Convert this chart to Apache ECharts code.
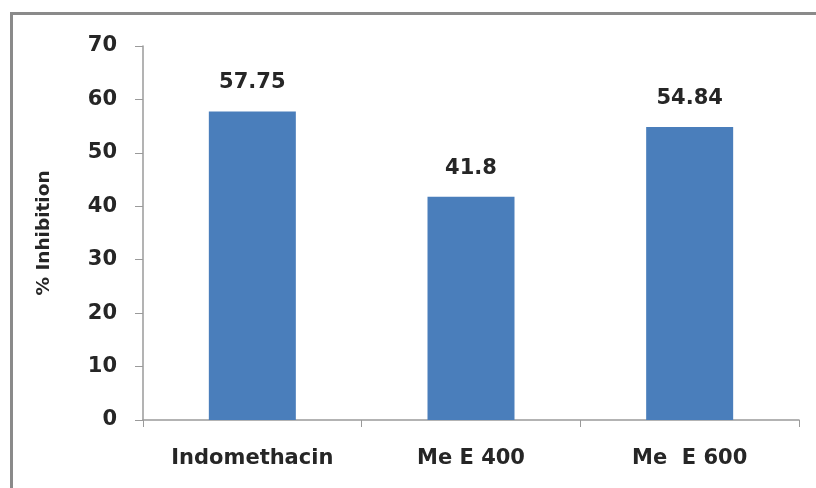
<!doctype html>
<html>
<head>
<meta charset="UTF-8">
<title>% Inhibition</title>
<script src="https://cdn.jsdelivr.net/npm/echarts@6/dist/echarts.min.js"></script>
<style>
    html, body { margin: 0; padding: 0; background: #fff; }
</style>
</head>
<body>
<div id="main" style="width: 816px;height:488px;"></div>
<script type="text/javascript">
    // data
    var categories = ['Indomethacin', 'Me E 400', 'Me  E 600'];
    var inhibition = [57.75, 41.8, 54.84];
    var yTicks = [0, 10, 20, 30, 40, 50, 60, 70];

    var myChart = echarts.init(document.getElementById('main'));
    var font = '"DejaVu Sans", sans-serif';

    var option = {
        backgroundColor: '#ffffff',
        animation: false,
        graphic: [{
            type: 'rect',
            shape: { x: 11.5, y: 13.5, width: 830, height: 500 },
            style: { fill: 'none', stroke: '#8a8a8a', lineWidth: 3 }
        }],
        grid: { left: 143, right: 17, top: 46, bottom: 68 },
        xAxis: {
            type: 'category',
            data: categories,
            axisLine: { lineStyle: { color: '#9a9a9a', width: 1.5 } },
            axisTick: { show: true, length: 7, lineStyle: { color: '#9a9a9a' } },
            axisLabel: {
                margin: 28,
                color: '#262626',
                fontSize: 21,
                fontWeight: 'bold',
                fontFamily: font
            }
        },
        yAxis: {
            type: 'value',
            min: yTicks[0],
            max: yTicks[yTicks.length - 1],
            interval: 10,
            name: '% Inhibition',
            nameLocation: 'middle',
            nameGap: 89,
            nameTextStyle: {
                color: '#262626',
                fontSize: 18.5,
                fontWeight: 'bold',
                fontFamily: font
            },
            axisLine: { show: true, lineStyle: { color: '#9a9a9a', width: 1.5 } },
            axisTick: { show: true, inside: false, length: 8, lineStyle: { color: '#9a9a9a' } },
            splitLine: { show: false },
            axisLabel: {
                margin: 26,
                color: '#262626',
                fontSize: 21,
                fontWeight: 'bold',
                fontFamily: font
            }
        },
        series: [{
            type: 'bar',
            data: inhibition,
            barWidth: 87,
            itemStyle: { color: '#4a7ebb' },
            label: {
                show: true,
                position: 'top',
                distance: 18,
                color: '#262626',
                fontSize: 21,
                fontWeight: 'bold',
                fontFamily: font
            }
        }]
    };
    myChart.setOption(option);
</script>
</body>
</html>
